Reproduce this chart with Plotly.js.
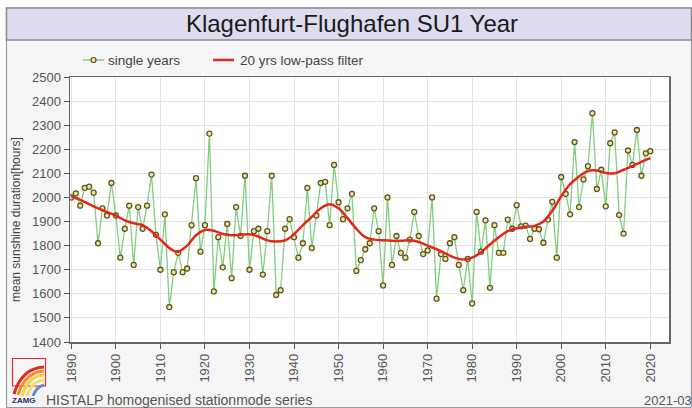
<!DOCTYPE html>
<html>
<head>
<meta charset="utf-8">
<script src="https://cdn.plot.ly/plotly-3.0.1.min.js"></script>
<style>
html,body{margin:0;padding:0;background:#ffffff;}
#chart{width:692px;height:408px;}
</style>
</head>
<body>
<div id="chart"></div>
<script>
// ---- data ----
var firstYear = 1890;
var singleYears = [
  2000,2017,1966,2040,2045,2020,1810,1955,1925,2060, // 1890-1899
  1925,1750,1870,1966,1720,1960,1870,1966,2095,1845, // 1900-1909
  1700,1930,1545,1690,1770,1690,1705,1885,2080,1775, // 1910-1919
  1885,2265,1610,1835,1710,1890,1665,1960,1840,2090, // 1920-1929
  1700,1860,1870,1680,1860,2090,1595,1615,1870,1910, // 1930-1939
  1835,1750,1810,2040,1790,1925,2060,2065,1885,2135, // 1940-1949
  1980,1910,1955,2015,1695,1740,1785,1810,1955,1860, // 1950-1959
  1635,2000,1720,1840,1770,1750,1825,1940,1840,1765, // 1960-1969
  1780,2000,1580,1765,1745,1810,1835,1720,1615,1745, // 1970-1979
  1560,1940,1775,1905,1625,1885,1770,1770,1908,1870, // 1980-1989
  1968,1880,1883,1828,1870,1868,1812,1908,1982,1750, // 1990-1999
  2085,2015,1930,2230,1960,2075,2130,2350,2035,2115, // 2000-2009
  1963,2225,2270,1927,1850,2195,2135,2280,2090,2183, // 2010-2019
  2192                                                // 2020
];
var years = singleYears.map(function(v, i){ return firstYear + i; });

var filterYears = [1890,1892,1894,1896,1898,1900,1902,1904,1906,1908,1910,1912,1913,1914,1916,1918,1920,1922,1924,1926,1928,1930,1932,1934,1936,1938,1940,1942,1944,1946,1948,1950,1952,1954,1956,1958,1960,1962,1964,1966,1968,1970,1972,1974,1976,1978,1980,1982,1984,1986,1988,1990,1992,1994,1996,1998,2000,2002,2004,2006,2008,2010,2012,2014,2016,2018,2020];
var filterValues = [2005,1990,1972,1955,1940,1925,1905,1893,1885,1860,1825,1790,1778,1775,1800,1843,1865,1862,1848,1843,1845,1847,1838,1822,1817,1822,1848,1885,1920,1955,1972,1955,1914,1870,1835,1825,1822,1820,1820,1822,1815,1800,1785,1768,1750,1742,1750,1772,1805,1835,1860,1872,1878,1882,1900,1945,2005,2055,2087,2110,2112,2102,2100,2115,2130,2148,2163];

var xTickVals = [1890,1900,1910,1920,1930,1940,1950,1960,1970,1980,1990,2000,2010,2020];
var xTickText = ["1890","1900","1910","1920","1930","1940","1950","1960","1970","1980","1990","2000","2010","2020"];

var titleText = "Klagenfurt-Flughafen SU1 Year";
var yTitleText = "mean sunshine duration[hours]";
var seriesNames = ["single years", "20 yrs low-pass filter"];
var footerText = "HISTALP homogenised stationmode series";
var dateText = "2021-03";

var greenLine = '#7fcf7f', markerFill = '#ece4a8', markerEdge = '#5e5618', redLine = '#e3261e';
var FONT = 'Liberation Sans, Arial, sans-serif';

// ---- geometry helpers (pixel -> paper) ----
var W = 692, H = 408;
var M = {l:70, r:23, t:77, b:66};
var PW = W - M.l - M.r, PH = H - M.t - M.b;
function px(x){ return (x - M.l) / PW; }
function py(y){ return (H - M.b - y) / PH; }

var traces = [
  {
    x: years, y: singleYears, name: seriesNames[0],
    type: 'scatter', mode: 'lines+markers',
    line: {color: greenLine, width: 1.3},
    marker: {symbol: 'circle', size: 5, color: markerFill, line: {color: markerEdge, width: 1.3}}
  },
  {
    x: filterYears, y: filterValues, name: seriesNames[1],
    type: 'scatter', mode: 'lines',
    line: {color: redLine, width: 2.5, shape: 'spline', smoothing: 1.0}
  }
];

function rainbowPath(x0, y0, cx, cy, x1, y1){
  return 'M ' + px(x0) + ',' + py(y0) + ' Q ' + px(cx) + ',' + py(cy) + ' ' + px(x1) + ',' + py(y1);
}

var shapes = [
  // white surround
  {type:'rect', xref:'paper', yref:'paper', x0:px(0), x1:px(692), y0:py(0), y1:py(7), fillcolor:'#ffffff', line:{width:0}, layer:'below'},
  {type:'rect', xref:'paper', yref:'paper', x0:px(0), x1:px(6), y0:py(0), y1:py(408), fillcolor:'#ffffff', line:{width:0}, layer:'below'},
  // outer frame
  {type:'rect', xref:'paper', yref:'paper', x0:px(6.5), x1:px(691.5), y0:py(8), y1:py(407.5), line:{color:'#9a9aa0', width:1.2}, fillcolor:'rgba(0,0,0,0)', layer:'below'},
  // title bar
  {type:'rect', xref:'paper', yref:'paper', x0:px(6.5), x1:px(691.5), y0:py(8), y1:py(40), line:{color:'#8a8a94', width:1.5}, fillcolor:'#dcdcee', layer:'below'},
  // legend: single years
  {type:'line', xref:'paper', yref:'paper', x0:px(83), x1:px(104), y0:py(60), y1:py(60), line:{color:greenLine, width:1.5}},
  {type:'circle', xref:'paper', yref:'paper', x0:px(91), x1:px(96), y0:py(57.5), y1:py(62.5), fillcolor:markerFill, line:{color:markerEdge, width:1.2}},
  // legend: low-pass filter
  {type:'line', xref:'paper', yref:'paper', x0:px(213), x1:px(234), y0:py(60), y1:py(60), line:{color:redLine, width:2.5}},
  // logo rectangle
  {type:'rect', xref:'paper', yref:'paper', x0:px(12.5), x1:px(45.5), y0:py(358.5), y1:py(386), line:{color:'#d83030', width:1.2}, fillcolor:'rgba(0,0,0,0)', layer:'above'},
  // rainbow arcs
  {type:'path', xref:'paper', yref:'paper', path: rainbowPath(14,394, 22,368, 44,367), line:{color:'#e02a20', width:3}},
  {type:'path', xref:'paper', yref:'paper', path: rainbowPath(18,395, 25,372, 44,371), line:{color:'#f0902a', width:3}},
  {type:'path', xref:'paper', yref:'paper', path: rainbowPath(22,396, 28,376, 44,375), line:{color:'#f2d040', width:3}},
  {type:'path', xref:'paper', yref:'paper', path: rainbowPath(27,396, 32,381, 44,380), line:{color:'#e8e070', width:3}},
  {type:'path', xref:'paper', yref:'paper', path: rainbowPath(33,396, 37,386, 44,385), line:{color:'#6a8ad0', width:3}}
];

var annotations = [
  {text: yTitleText, xref:'paper', yref:'paper', x: px(16), y: py(220), textangle: -90, showarrow:false,
   font:{family:FONT, size:12, color:'#444'}, xanchor:'center', yanchor:'middle'},
  {text: seriesNames[0], xref:'paper', yref:'paper', x: px(106), y: py(60), showarrow:false, xanchor:'left', yanchor:'middle',
   font:{family:FONT, size:13.5, color:'#444'}},
  {text: seriesNames[1], xref:'paper', yref:'paper', x: px(238), y: py(60), showarrow:false, xanchor:'left', yanchor:'middle',
   font:{family:FONT, size:13.5, color:'#444'}},
  {text: footerText, xref:'paper', yref:'paper', x: px(44), y: py(400), showarrow:false, xanchor:'left', yanchor:'middle',
   font:{family:FONT, size:14, color:'#555'}},
  {text: dateText, xref:'paper', yref:'paper', x: px(694), y: py(400), showarrow:false, xanchor:'right', yanchor:'middle',
   font:{family:FONT, size:13, color:'#555'}},
  {text: '<b>ZAMG</b>', xref:'paper', yref:'paper', x: px(10), y: py(400), showarrow:false, xanchor:'left', yanchor:'middle',
   font:{family:FONT, size:8, color:'#1f2f6f'}}
];

var layout = {
  width: W, height: H,
  margin: M,
  paper_bgcolor: '#f5f5f8',
  plot_bgcolor: '#ffffff',
  font: {family: FONT, size: 11, color: '#555'},
  title: {text: titleText, x: 352/W, xref: 'container', xanchor: 'center', y: 1 - 24/H, yref: 'container', yanchor: 'middle',
          font: {family: FONT, size: 24, color: '#1a1a1a'}},
  showlegend: false,
  xaxis: {
    range: [1889.7, 2024.2], tickmode: 'array', tickvals: xTickVals, ticktext: xTickText,
    tickangle: -90, ticks: 'outside', ticklen: 5, tickcolor: '#555',
    showgrid: true, gridcolor: '#e2e2e2', gridwidth: 1,
    showline: true, linecolor: '#666', linewidth: 1.5, mirror: true,
    zeroline: false, tickfont: {size: 13, color: '#555'}
  },
  yaxis: {
    range: [1400, 2500], dtick: 100, tick0: 1400, ticks: 'outside', ticklen: 5, tickcolor: '#555',
    showgrid: true, gridcolor: '#e2e2e2', gridwidth: 1,
    showline: true, linecolor: '#666', linewidth: 1.5, mirror: true,
    zeroline: false, tickfont: {size: 13, color: '#555'}
  },
  shapes: shapes,
  annotations: annotations
};

Plotly.newPlot('chart', traces, layout, {displayModeBar: false, staticPlot: true});
</script>
</body>
</html>
